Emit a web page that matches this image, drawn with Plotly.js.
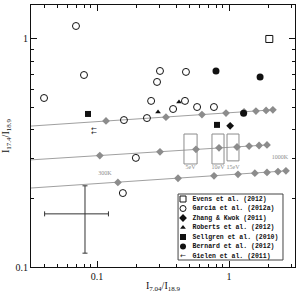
<!DOCTYPE html>
<html>
<head>
<meta charset="utf-8">
<script src="https://cdn.plot.ly/plotly-3.0.1.min.js"></script>
<style>
  html, body { margin: 0; padding: 0; background: #fff; }
  #chart { width: 299px; height: 297px; }
</style>
</head>
<body>
<div id="chart"></div>
<script>
// ---- observed line ratios ----
const evensX = [2.02];
const evensY = [1.00];

const garciaX = [0.0693, 0.0797, 0.0397, 0.160, 0.239, 0.257, 0.300, 0.285, 0.472, 0.377, 0.464, 0.573, 0.769, 0.197, 0.157];
const garciaY = [1.14, 0.695, 0.551, 0.441, 0.450, 0.535, 0.724, 0.648, 0.717, 0.493, 0.535, 0.503, 0.503, 0.301, 0.211];

const zhangX = [1.02];
const zhangY = [0.416];

const robertsX = [0.290, 0.418];
const robertsY = [0.478, 0.529];

const sellgrenX = [0.0855, 0.811];
const sellgrenY = [0.469, 0.420];

const bernardX = [0.797, 1.72, 1.29];
const bernardY = [0.724, 0.681, 0.472];

const gielenX = [0.0949, 0.0949];
const gielenY = [0.403, 0.387];

// typical uncertainty
const errX = [0.0811];
const errY = [0.171];
const errDX = [0.041];
const errDY = [0.056];

// ---- model tracks (first point is where the track enters the frame) ----
const modelAX = [0.0316, 0.117, 0.333, 0.624, 0.949, 1.30, 1.60, 1.91, 2.15];
const modelAY = [0.415, 0.437, 0.454, 0.466, 0.473, 0.479, 0.483, 0.486, 0.489];

const modelBX = [0.0316, 0.105, 0.300, 0.562, 0.840, 1.15, 1.42, 1.69, 1.94];
const modelBY = [0.295, 0.308, 0.320, 0.328, 0.333, 0.336, 0.339, 0.341, 0.343];

const modelCX = [0.0316, 0.144, 0.411, 0.770, 1.17, 1.57, 1.94, 2.35, 2.70];
const modelCY = [0.222, 0.235, 0.245, 0.251, 0.255, 0.258, 0.260, 0.262, 0.264];

// ---- excitation boxes ----
const boxLabels = ['5eV', '10eV', '15eV'];
const boxX0 = [0.456, 0.743, 0.966];
const boxX1 = [0.573, 0.917, 1.19];
const boxY0 = [0.283, 0.283, 0.292];
const boxY1 = [0.383, 0.383, 0.383];

// ---- temperature labels ----
const tempLabels = ['300K', '1000K'];
const tempX = [0.115, 2.43];
const tempY = [0.258, 0.301];

// ---- axis ticks ----
const xMajor = [0.1, 1];
const xMajorText = ['0.1', '1'];
const xMinor = [0.04, 0.05, 0.06, 0.07, 0.08, 0.09, 0.2, 0.3, 0.4, 0.5, 0.6, 0.7, 0.8, 0.9, 2, 3];
const yMajor = [0.1, 1];
const yMajorText = ['0.1', '1'];
const yMinor = [0.2, 0.3, 0.4, 0.5, 0.6, 0.7, 0.8, 0.9];

// ---- key ----
const keyLabels = ['Evens et al. (2012)', 'Garcia et al. (2012a)', 'Zhang & Kwok (2011)',
                   'Roberts et al. (2012)', 'Sellgren et al. (2010)', 'Bernard et al. (2012)',
                   'Gielen et al. (2011)'];
const keySymbols = ['square-open', 'circle-open', 'diamond', 'triangle-up', 'square', 'circle', null];

const SERIF = 'Liberation Serif, DejaVu Serif, serif';
const MONO = 'Liberation Mono, DejaVu Sans Mono, monospace';
const INK = '#111';
const GREY = '#8c8c8c';

const traces = [];

function modelTrack(xs, ys) {
  traces.push({x: xs, y: ys, mode: 'lines', type: 'scatter',
               line: {color: '#a0a0a0', width: 1}, hoverinfo: 'skip'});
  traces.push({x: xs.slice(1), y: ys.slice(1), mode: 'markers', type: 'scatter',
               marker: {symbol: 'diamond', size: 6, color: GREY, line: {width: 0}}});
}
modelTrack(modelAX, modelAY);
modelTrack(modelBX, modelBY);
modelTrack(modelCX, modelCY);

traces.push({x: errX, y: errY, mode: 'markers', type: 'scatter',
  marker: {size: 1, color: 'rgba(0,0,0,0)'},
  error_x: {type: 'data', array: errDX, color: '#333', thickness: 1, width: 2.5},
  error_y: {type: 'data', array: errDY, color: '#333', thickness: 1, width: 2.5}});

function obs(xs, ys, symbol, size) {
  const open = symbol.endsWith('-open');
  traces.push({x: xs, y: ys, mode: 'markers', type: 'scatter',
    marker: {symbol: symbol, size: size, color: INK,
             line: {color: INK, width: open ? 1 : 0}}});
}
obs(evensX, evensY, 'square-open', 7);
obs(garciaX, garciaY, 'circle-open', 7);
obs(zhangX, zhangY, 'diamond', 6);
obs(robertsX, robertsY, 'triangle-up', 5);
obs(sellgrenX, sellgrenY, 'square', 6);
obs(bernardX, bernardY, 'circle', 7);
traces.push({x: gielenX, y: gielenY, mode: 'text', type: 'scatter', text: gielenX.map(() => '←'),
  textposition: 'middle center', textfont: {family: 'DejaVu Sans', size: 7, color: INK}});

// labels for temperatures and excitation boxes
traces.push({x: tempX, y: tempY, mode: 'text', type: 'scatter', text: tempLabels,
  textposition: 'middle center', textfont: {family: SERIF, size: 6, color: GREY}});
traces.push({x: boxX0.map((v, i) => Math.sqrt(v * boxX1[i])),
  y: boxY0.map(() => 0.272), mode: 'text', type: 'scatter', text: boxLabels,
  textposition: 'middle center', textfont: {family: SERIF, size: 6, color: GREY}});

// key drawn on a unit overlay frame
const keyTop = 0.2595, keyStep = 0.03626;
const keyRowY = keyLabels.map((_, i) => keyTop - i * keyStep);
keySymbols.forEach((s, i) => {
  if (!s) return;
  const open = s.endsWith('-open');
  traces.push({x: [0.5758], y: [keyRowY[i]], xaxis: 'x2', yaxis: 'y2', mode: 'markers', type: 'scatter',
    marker: {symbol: s, size: s === 'triangle-up' ? 5 : 6, color: INK,
             line: {color: INK, width: open ? 1 : 0}}});
});
traces.push({x: [0.5758], y: [keyRowY[6]], xaxis: 'x2', yaxis: 'y2', mode: 'text', type: 'scatter',
  text: ['←'], textposition: 'middle center', textfont: {family: 'DejaVu Sans', size: 7, color: INK}});
traces.push({x: keyLabels.map(() => 0.612), y: keyRowY, xaxis: 'x2', yaxis: 'y2', mode: 'text', type: 'scatter',
  text: keyLabels, textposition: 'middle right',
  textfont: {family: MONO, size: 6.5, color: INK, weight: 'bold'}});

const shapes = boxX0.map((x0, i) => ({type: 'rect', xref: 'x', yref: 'y',
  x0: x0, x1: boxX1[i], y0: boxY0[i], y1: boxY1[i], line: {color: GREY, width: 1}}));
shapes.push({type: 'rect', xref: 'paper', yref: 'paper', x0: 0.557, x1: 0.9545, y0: 0.0267, y1: 0.2786,
  line: {color: '#444', width: 1}});

const axisCommon = {
  type: 'log', ticks: 'inside', ticklen: 6, tickwidth: 1, tickcolor: INK,
  showline: true, linecolor: INK, linewidth: 1, mirror: 'ticks', showgrid: false, zeroline: false,
  tickmode: 'array', tickfont: {family: SERIF, size: 10, color: INK},
};

const layout = {
  width: 299, height: 297,
  margin: {l: 31, r: 4, t: 5, b: 30},
  paper_bgcolor: '#fff', plot_bgcolor: '#fff',
  showlegend: false,
  xaxis: Object.assign({}, axisCommon, {
    range: [-1.5, 0.5], tickvals: xMajor, ticktext: xMajorText,
    minor: {tickmode: 'array', tickvals: xMinor, ticks: 'inside', ticklen: 3, tickcolor: INK, showgrid: false},
    title: {text: 'I<sub>7.04</sub>/I<sub>18.9</sub>', font: {family: SERIF, size: 10, color: INK}, standoff: 0},
  }),
  yaxis: Object.assign({}, axisCommon, {
    range: [-1, 0.149], tickvals: yMajor, ticktext: yMajorText,
    minor: {tickmode: 'array', tickvals: yMinor, ticks: 'inside', ticklen: 3, tickcolor: INK, showgrid: false},
    title: {text: 'I<sub>17.4</sub>/I<sub>18.9</sub>', font: {family: SERIF, size: 10, color: INK}, standoff: 4},
  }),
  xaxis2: {overlaying: 'x', range: [0, 1], visible: false, fixedrange: true},
  yaxis2: {overlaying: 'y', range: [0, 1], visible: false, fixedrange: true},
  shapes: shapes,
};

Plotly.newPlot('chart', traces, layout, {staticPlot: true, displayModeBar: false});
</script>
</body>
</html>
